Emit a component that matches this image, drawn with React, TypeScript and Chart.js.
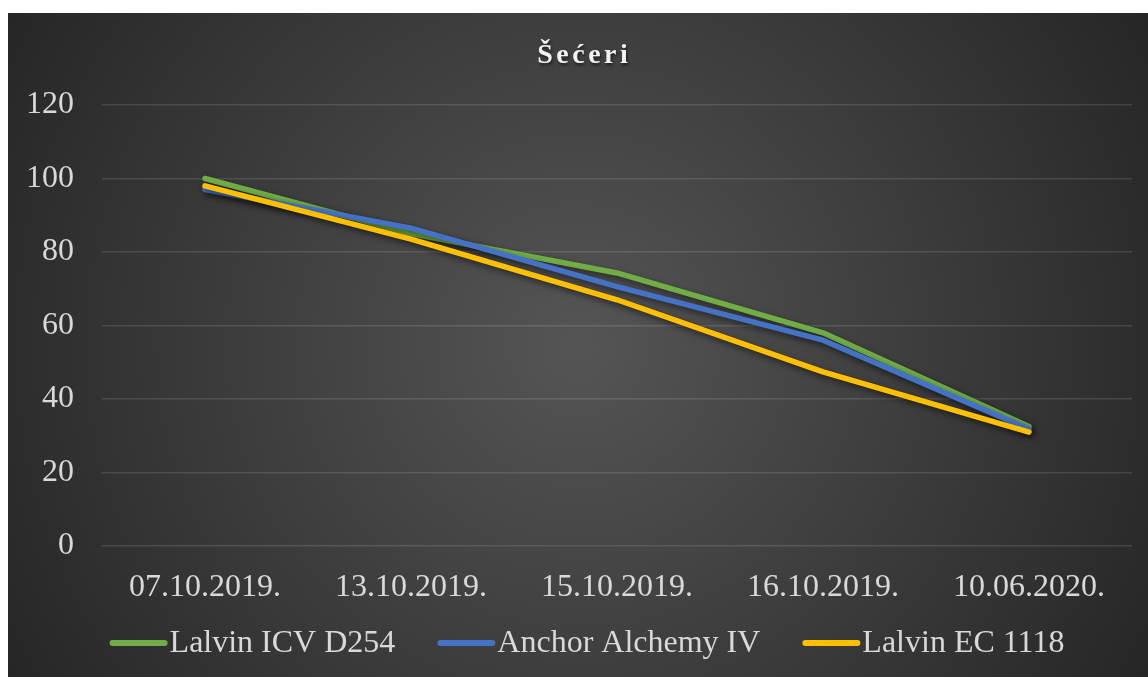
import { useEffect, useRef } from "react";
import { Chart, registerables } from "chart.js";

Chart.register(...registerables);

const chartTitle = "Šećeri";
const categories = ["07.10.2019.", "13.10.2019.", "15.10.2019.", "16.10.2019.", "10.06.2020."];
const seriesNames = ["Lalvin ICV D254", "Anchor Alchemy IV", "Lalvin EC 1118"];
const lalvinD254 = [100, 85, 74.3, 58, 32.5];
const anchorAlchemy = [97, 86.5, 70.6, 56, 31.8];
const lalvinEC1118 = [98, 83.5, 67, 47.4, 31];
const seriesColors = ["#70ad47", "#4472c4", "#ffc000"];
const yMin = 0;
const yMax = 120;
const yStep = 20;

const FAMILY = "'Liberation Serif', 'Times New Roman', serif";
const TEXT = "#d9d9d9";

const bgPlugin = {
  id: "bgPlugin",
  beforeDraw(chart: any) {
    const { ctx, width, height } = chart;
    ctx.save();
    const g = ctx.createRadialGradient(width / 2, height / 2, 0, width / 2, height / 2, Math.hypot(width / 2, height / 2));
    g.addColorStop(0, "#555555");
    g.addColorStop(1, "#262626");
    ctx.fillStyle = g;
    ctx.fillRect(0, 0, width, height);
    ctx.restore();
  },
};

const shadowPlugin = {
  id: "shadowPlugin",
  beforeDatasetDraw(chart: any) {
    const ctx = chart.ctx;
    ctx.save();
    ctx.shadowColor = "rgba(0,0,0,0.55)";
    ctx.shadowBlur = 6;
    ctx.shadowOffsetX = 2;
    ctx.shadowOffsetY = 3;
  },
  afterDatasetDraw(chart: any) {
    chart.ctx.restore();
  },
};

const titleLegendPlugin = {
  id: "titleLegendPlugin",
  afterDraw(chart: any) {
    const ctx = chart.ctx;
    // title
    ctx.save();
    const ls = 3.5;
    ctx.font = `bold 28px ${FAMILY}`;
    (ctx as any).letterSpacing = `${ls}px`;
    ctx.textBaseline = "alphabetic";
    ctx.textAlign = "left";
    const tw = ctx.measureText(chartTitle).width - ls;
    ctx.shadowColor = "rgba(0,0,0,0.6)";
    ctx.shadowBlur = 3;
    ctx.shadowOffsetX = 1;
    ctx.shadowOffsetY = 2;
    ctx.fillStyle = "#f2f2f2";
    ctx.fillText(chartTitle, 574.5 - tw / 2, 50);
    ctx.restore();

    // legend
    ctx.save();
    ctx.font = `32px ${FAMILY}`;
    ctx.textBaseline = "middle";
    ctx.textAlign = "left";
    const marker = 58;
    const gap = 2;
    const itemGap = 42;
    const widths = seriesNames.map((n) => ctx.measureText(n).width);
    const total = widths.reduce((a, w) => a + marker + gap + w, 0) + itemGap * (seriesNames.length - 1);
    let x = 579 - total / 2;
    const y = 630;
    seriesNames.forEach((name, i) => {
      ctx.strokeStyle = seriesColors[i];
      ctx.lineWidth = 6;
      ctx.lineCap = "round";
      ctx.beginPath();
      ctx.moveTo(x + 3, y);
      ctx.lineTo(x + marker - 3, y);
      ctx.stroke();
      ctx.fillStyle = TEXT;
      ctx.fillText(name, x + marker + gap, y + 1);
      x += marker + gap + widths[i] + itemGap;
    });
    ctx.restore();
  },
};

export default function App() {
  const ref = useRef<HTMLCanvasElement | null>(null);

  useEffect(() => {
    if (!ref.current) return;
    const values = [lalvinD254, anchorAlchemy, lalvinEC1118];
    const chart = new Chart(ref.current, {
      type: "line",
      data: {
        labels: categories,
        datasets: seriesNames.map((name, i) => ({
          label: name,
          data: values[i],
          borderColor: seriesColors[i],
          backgroundColor: seriesColors[i],
          borderWidth: 5.5,
          borderCapStyle: "round" as const,
          borderJoinStyle: "round" as const,
          pointRadius: 0,
          pointHoverRadius: 0,
          tension: 0,
          fill: false,
          order: seriesNames.length - i,
        })),
      },
      options: {
        animation: false,
        responsive: false,
        maintainAspectRatio: false,
        events: [],
        layout: { padding: { top: 92, right: 16, left: 0, bottom: 0 } },
        plugins: {
          legend: { display: false },
          title: { display: false },
          tooltip: { enabled: false },
        },
        scales: {
          x: {
            offset: true,
            grid: { display: false, drawTicks: false, offset: true },
            border: { display: false },
            ticks: {
              color: TEXT,
              font: { family: FAMILY, size: 32 },
              padding: 22,
              maxRotation: 0,
              autoSkip: false,
            },
            afterFit: (s: any) => {
              s.height = 131;
            },
          },
          y: {
            min: yMin,
            max: yMax,
            grid: { color: "rgba(255,255,255,0.12)", lineWidth: 1.5, drawTicks: false },
            border: { display: false },
            ticks: {
              stepSize: yStep,
              color: TEXT,
              font: { family: FAMILY, size: 32 },
              padding: 28,
            },
            afterFit: (s: any) => {
              s.width = 94;
            },
          },
        },
      },
      plugins: [bgPlugin, shadowPlugin, titleLegendPlugin],
    });
    return () => chart.destroy();
  }, []);

  return (
    <div style={{ position: "fixed", left: 8, top: 13, width: 1140, height: 664 }}>
      <canvas ref={ref} width={1140} height={664} style={{ display: "block", width: 1140, height: 664 }} />
    </div>
  );
}
